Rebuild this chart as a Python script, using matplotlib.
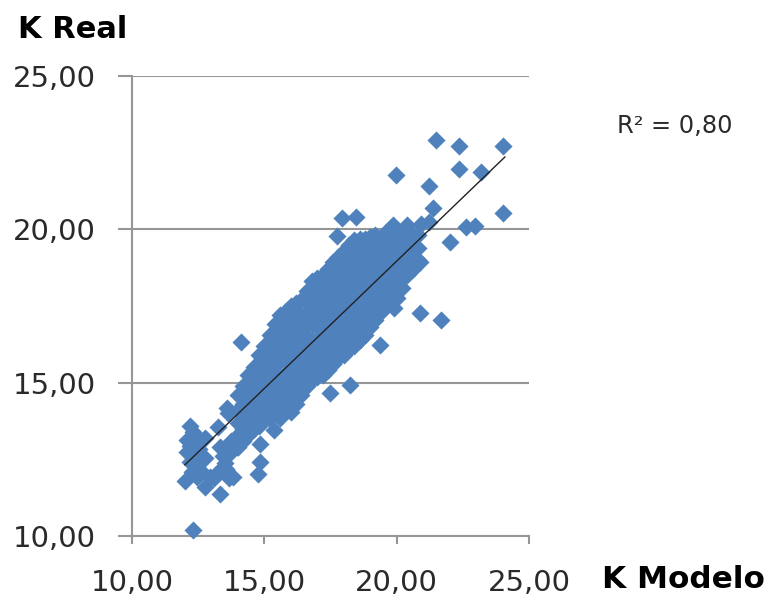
import matplotlib
matplotlib.use("Agg")
from matplotlib import pyplot as plt

POINTCOLOR = '#4F81BD'
GRIDCOLOR = '#969696'
TEXTCOLOR = '#2A2A2A'

# dense band, read column by column
band_x = [14.0]*5 + [14.4]*6 + [14.8]*7 + [15.2]*8 + [15.6]*8 + [16.0]*9 + [16.4]*8 + [16.8]*8 \
    + [17.2]*9 + [17.6]*9 + [18.0]*9 + [18.4]*9 + [18.8]*8 + [19.2]*8 + [19.6]*7 + [20.0]*5 + [20.4]*4 + [20.8]*3
band_y = [12.9, 13.3, 13.7, 14.1, 14.6,
          13.3, 13.7, 14.1, 14.5, 14.9, 15.25,
          13.6, 14.0, 14.4, 14.8, 15.2, 15.6, 15.9,
          13.8, 14.2, 14.6, 15.0, 15.4, 15.8, 16.2, 16.55,
          13.85, 14.3, 14.8, 15.2, 15.7, 16.2, 16.7, 17.2,
          14.05, 14.5, 14.9, 15.3, 15.7, 16.1, 16.6, 17.05, 17.5,
          14.6, 15.0, 15.4, 15.8, 16.2, 16.6, 17.2, 17.7,
          15.1, 15.5, 15.9, 16.4, 16.9, 17.4, 17.9, 18.3,
          15.25, 15.6, 16.0, 16.4, 16.8, 17.2, 17.6, 18.1, 18.5,
          15.6, 16.0, 16.4, 16.8, 17.2, 17.6, 18.0, 18.5, 18.95,
          15.9, 16.3, 16.7, 17.1, 17.5, 17.9, 18.4, 18.9, 19.3,
          16.2, 16.6, 17.0, 17.4, 17.8, 18.2, 18.7, 19.2, 19.65,
          16.55, 17.0, 17.4, 17.8, 18.2, 18.7, 19.2, 19.7,
          17.05, 17.4, 17.8, 18.2, 18.6, 19.0, 19.4, 19.8,
          17.5, 17.9, 18.3, 18.7, 19.1, 19.5, 19.9,
          18.2, 18.6, 19.0, 19.5, 19.95,
          18.5, 18.9, 19.4, 19.8,
          19.0, 19.4, 19.8]

# points lying in the gaps between those columns
fill_x = [14.2]*5 + [14.6]*6 + [15.0]*7 + [15.4]*8 + [15.8]*9 + [16.2]*9 + [16.6]*9 + [17.0]*9 \
    + [17.4]*9 + [17.8]*9 + [18.2]*9 + [18.6]*9 + [19.0]*8 + [19.4]*7 + [19.8]*6 + [20.2]*4 + [20.6]*4
fill_y = [13.1, 13.5, 13.9, 14.3, 14.9,
          13.5, 13.9, 14.3, 14.7, 15.1, 15.5,
          13.8, 14.2, 14.6, 15.0, 15.4, 15.8, 16.2,
          14.0, 14.4, 14.8, 15.2, 15.6, 16.0, 16.4, 16.9,
          14.1, 14.5, 14.9, 15.3, 15.7, 16.1, 16.5, 16.9, 17.35,
          14.3, 14.7, 15.1, 15.5, 15.9, 16.3, 16.8, 17.3, 17.6,
          14.9, 15.3, 15.7, 16.1, 16.5, 16.9, 17.3, 17.7, 18.0,
          15.2, 15.6, 16.0, 16.4, 16.8, 17.2, 17.6, 18.0, 18.4,
          15.4, 15.8, 16.2, 16.6, 17.0, 17.4, 17.8, 18.3, 18.7,
          15.8, 16.2, 16.6, 17.0, 17.4, 17.8, 18.2, 18.7, 19.1,
          16.1, 16.5, 16.9, 17.3, 17.7, 18.1, 18.6, 19.1, 19.5,
          16.4, 16.8, 17.2, 17.6, 18.0, 18.4, 18.9, 19.4, 19.7,
          16.8, 17.2, 17.6, 18.0, 18.4, 18.9, 19.4, 19.75,
          17.3, 17.6, 18.0, 18.4, 18.8, 19.2, 19.6,
          17.8, 18.1, 18.5, 18.9, 19.3, 19.7,
          18.4, 18.8, 19.2, 19.6,
          18.7, 19.1, 19.5, 19.85]

# lower left cluster and points standing off the band
outlier_x = [21.48, 22.35, 24.02, 22.35, 23.18, 19.97, 21.22, 21.37, 24.02, 22.62, 22.96, 22.0,
             17.93, 18.46, 17.74, 20.88, 21.67, 20.88, 19.86, 20.39, 20.92, 21.22,
             14.12, 12.19, 13.25, 13.59, 14.84, 15.36, 14.84, 14.76, 13.32, 12.30, 12.76, 13.66, 12.0,
             17.48, 18.24, 19.37, 12.08, 12.08, 12.38, 12.76, 12.19, 12.27, 12.57, 13.32, 13.32, 13.51,
             13.7, 13.97, 13.82, 12.95, 12.46, 13.63,
             12.3, 12.55, 12.35, 12.75, 12.5, 13.1, 13.55, 13.45, 13.75, 12.2, 12.5,
             19.9, 20.0, 20.2]
outlier_y = [22.91, 22.72, 22.72, 21.97, 21.87, 21.77, 21.41, 20.70, 20.53, 20.08, 20.11, 19.59,
             20.37, 20.40, 19.78, 17.27, 17.04, 18.94, 20.14, 20.14, 20.17, 20.24,
             16.33, 13.59, 13.55, 14.18, 13.0, 13.46, 12.41, 12.02, 11.37, 10.2, 11.6, 11.9, 11.8,
             14.66, 14.93, 16.23, 13.13, 12.74, 13.13, 13.2, 12.41, 12.09, 12.15, 12.9, 12.15, 12.38,
             12.71, 12.9, 11.92, 11.92, 11.92, 14.01,
             13.4, 12.85, 12.5, 12.55, 12.2, 11.9, 12.2, 12.6, 13.1, 12.95, 13.15,
             17.45, 17.75, 18.1]

trend_x = [12.0, 24.09]
trend_y = [12.32, 22.36]

ticks = [10, 15, 20, 25]
tick_labels = ['10,00', '15,00', '20,00', '25,00']

fig = plt.figure(figsize=(7.69, 5.98), dpi=100)
ax = fig.add_axes([132/769, 1 - 536/598, (529 - 132)/769, (536 - 76)/598])

ax.set_xlim(10, 25)
ax.set_ylim(10, 25)
ax.set_xticks(ticks)
ax.set_yticks(ticks)
ax.set_xticklabels(tick_labels, fontsize=21, color=TEXTCOLOR)
ax.set_yticklabels(tick_labels, fontsize=21, color=TEXTCOLOR)
ax.tick_params(axis='x', length=6, width=1.5, color=GRIDCOLOR, pad=18)
ax.tick_params(axis='y', length=10, width=1.5, color=GRIDCOLOR, pad=16)

ax.grid(axis='y', color=GRIDCOLOR, linewidth=1.5, zorder=0)
ax.set_axisbelow(True)
for side in ['top', 'right']:
    ax.spines[side].set_visible(False)
for side in ['left', 'bottom']:
    ax.spines[side].set_color(GRIDCOLOR)
    ax.spines[side].set_linewidth(1.5)

ax.scatter(band_x + fill_x + outlier_x, band_y + fill_y + outlier_y, marker='D', s=85,
           color=POINTCOLOR, linewidths=0, zorder=3, clip_on=False)
ax.plot(trend_x, trend_y, color='#222222', linewidth=1, zorder=4)

# Labels sit outside the axes:
fig.text(18/769, 1 - 30/598, 'K Real', fontsize=22, fontweight='bold', color='black', va='center')
fig.text(602/769, 1 - 579/598, 'K Modelo', fontsize=22.4, fontweight='bold', color='black', va='center')
fig.text(617/769, 1 - 126/598, 'R² = 0,80', fontsize=17.4, color=TEXTCOLOR, va='center')

fig.savefig('out.png', dpi=100)
